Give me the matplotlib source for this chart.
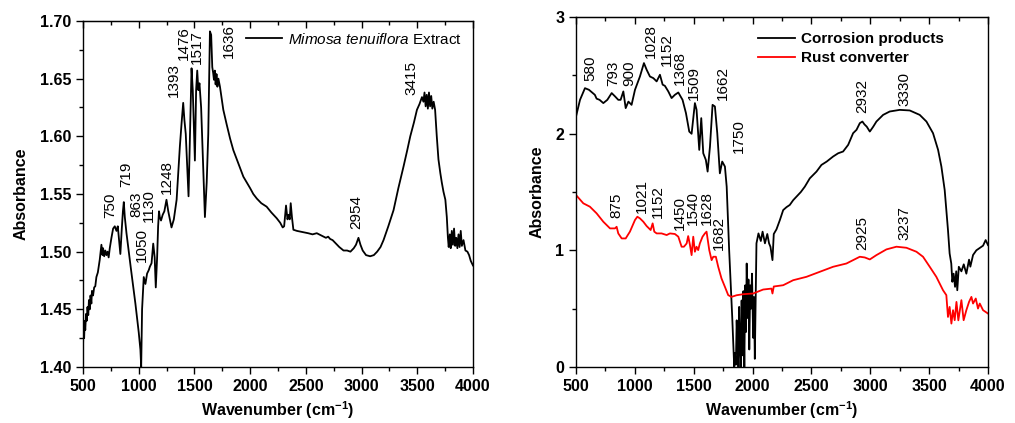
import numpy as np
import matplotlib.pyplot as plt
from matplotlib.ticker import MultipleLocator

plt.rcParams['font.family'] = ['Liberation Sans', 'DejaVu Sans']
plt.rcParams['mathtext.fontset'] = 'custom'
plt.rcParams['mathtext.rm'] = 'Liberation Sans'
plt.rcParams['mathtext.it'] = 'Liberation Sans:italic'
plt.rcParams['mathtext.bf'] = 'Liberation Sans:bold'

# Mimosa tenuiflora extract spectrum (wavenumber, absorbance)
wn_ext = [500, 503, 510, 515, 520, 527, 533, 540, 547, 553, 560, 567, 575, 580, 590, 600, 610, 620, 633,
          650, 665, 675, 680, 690, 700, 710, 720, 730, 740, 755, 770, 785, 800, 812, 825, 835, 848, 858, 866,
          875, 890, 930, 970, 1000, 1015, 1022, 1030, 1045, 1060, 1075, 1090, 1100, 1115, 1130, 1143, 1153,
          1165, 1174, 1182, 1189, 1200, 1215, 1230, 1249, 1265, 1294, 1315, 1340, 1369, 1385, 1399, 1410,
          1422, 1447, 1460, 1474, 1485, 1504, 1515, 1525, 1535, 1545, 1560, 1594, 1610, 1624, 1639, 1650,
          1660, 1668, 1675, 1683, 1690, 1698, 1706, 1715, 1729, 1745, 1759, 1790, 1820, 1849, 1880, 1910,
          1939, 1970, 2000, 2028, 2060, 2100, 2148, 2190, 2238, 2270, 2292, 2305, 2322, 2335, 2345, 2355,
          2364, 2375, 2388, 2420, 2470, 2520, 2560, 2598, 2640, 2680, 2700, 2718, 2740, 2770, 2800, 2838,
          2870, 2900, 2930, 2950, 2972, 2990, 3010, 3040, 3077, 3110, 3140, 3170, 3197, 3240, 3287, 3330,
          3377, 3410, 3437, 3470, 3497, 3520, 3542, 3555, 3565, 3575, 3585, 3595, 3605, 3615, 3625, 3635,
          3647, 3660, 3675, 3690, 3707, 3720, 3735, 3752, 3765, 3775, 3782, 3792, 3800, 3810, 3820, 3830,
          3840, 3850, 3860, 3870, 3880, 3890, 3900, 3915, 3932, 3950, 3965, 3980, 4000]
a_ext = [1.418, 1.430, 1.425, 1.440, 1.432, 1.446, 1.440, 1.452, 1.445, 1.458, 1.450, 1.462, 1.455, 1.466,
         1.462, 1.469, 1.470, 1.478, 1.482, 1.493, 1.506, 1.497, 1.503, 1.496, 1.501, 1.497, 1.500, 1.495,
         1.503, 1.512, 1.520, 1.522, 1.518, 1.522, 1.508, 1.498, 1.520, 1.535, 1.543, 1.530, 1.516, 1.485,
         1.455, 1.430, 1.415, 1.400, 1.450, 1.478, 1.472, 1.481, 1.484, 1.487, 1.490, 1.507, 1.495, 1.469,
         1.495, 1.522, 1.535, 1.530, 1.527, 1.532, 1.535, 1.545, 1.535, 1.521, 1.528, 1.545, 1.591, 1.612,
         1.629, 1.614, 1.602, 1.548, 1.600, 1.659, 1.640, 1.579, 1.640, 1.657, 1.640, 1.646, 1.625, 1.530,
         1.560, 1.602, 1.691, 1.688, 1.660, 1.655, 1.649, 1.657, 1.645, 1.654, 1.643, 1.650, 1.643, 1.632,
         1.623, 1.610, 1.598, 1.588, 1.580, 1.572, 1.565, 1.560, 1.555, 1.550, 1.546, 1.542, 1.539, 1.534,
         1.529, 1.525, 1.521, 1.522, 1.540, 1.528, 1.532, 1.528, 1.542, 1.530, 1.519, 1.518, 1.517, 1.516,
         1.515, 1.516, 1.514, 1.512, 1.513, 1.511, 1.510, 1.507, 1.504, 1.501, 1.501, 1.500, 1.503, 1.506,
         1.512, 1.506, 1.501, 1.497, 1.496, 1.497, 1.500, 1.504, 1.510, 1.522, 1.536, 1.555, 1.574, 1.588,
         1.600, 1.612, 1.623, 1.628, 1.634, 1.630, 1.638, 1.626, 1.636, 1.624, 1.638, 1.626, 1.635, 1.624,
         1.630, 1.623, 1.600, 1.580, 1.568, 1.560, 1.552, 1.545, 1.530, 1.512, 1.504, 1.515, 1.503, 1.518,
         1.506, 1.520, 1.505, 1.512, 1.503, 1.515, 1.504, 1.518, 1.505, 1.510, 1.501, 1.500, 1.497, 1.492,
         1.488]

# corrosion products spectrum
wn_cor = [500, 534, 576, 610, 660, 675, 700, 732, 766, 803, 831, 859, 879, 902, 922, 945, 972, 1001, 1043,
          1077, 1100, 1128, 1157, 1185, 1213, 1236, 1255, 1284, 1312, 1340, 1369, 1405, 1434, 1462, 1482,
          1510, 1524, 1547, 1564, 1581, 1603, 1618, 1638, 1660, 1680, 1700, 1722, 1742, 1765, 1780, 1801,
          1827, 1844, 1850, 1858, 1865, 1872, 1880, 1886, 1893, 1900, 1907, 1915, 1922, 1930, 1937, 1944,
          1950, 1958, 1965, 1972, 1980, 1987, 1995, 2005, 2012, 2019, 2033, 2050, 2070, 2085, 2105, 2125,
          2140, 2152, 2169, 2180, 2203, 2232, 2260, 2288, 2316, 2345, 2373, 2410, 2444, 2486, 2543, 2585,
          2630, 2684, 2727, 2769, 2812, 2854, 2883, 2911, 2933, 2950, 2970, 2996, 3025, 3052, 3109, 3165,
          3250, 3335, 3420, 3477, 3533, 3576, 3604, 3632, 3660, 3674, 3688, 3697, 3708, 3720, 3730, 3739,
          3752, 3774, 3794, 3816, 3839, 3850, 3873, 3901, 3930, 3958, 3980, 4000]
a_cor = [2.147, 2.290, 2.390, 2.376, 2.333, 2.300, 2.290, 2.262, 2.290, 2.348, 2.320, 2.290, 2.290,
         2.362, 2.219, 2.275, 2.247, 2.376, 2.490, 2.605, 2.548, 2.490, 2.476, 2.448, 2.505, 2.420, 2.410,
         2.362, 2.305, 2.333, 2.353, 2.290, 2.176, 2.018, 1.999, 2.262, 2.205, 1.861, 2.133, 1.832, 1.775,
         1.675, 1.889, 2.247, 2.233, 2.004, 1.660, 1.761, 1.718, 1.546, 1.002, 0.430, 0.000, 0.120, 0.020,
         0.400, 0.180, 0.000, 0.515, 0.200, 0.000, 0.570, 0.100, 0.650, 0.000, 0.700, 0.300, 0.887, 0.420,
         0.750, 0.150, 0.700, 0.500, 0.800, 0.250, 0.600, 0.070, 1.060, 1.145, 1.080, 1.160, 1.060, 1.140,
         1.060, 1.030, 0.916, 1.140, 1.180, 1.260, 1.345, 1.370, 1.389, 1.430, 1.460, 1.500, 1.546, 1.617,
         1.675, 1.732, 1.761, 1.804, 1.832, 1.847, 1.904, 2.004, 2.033, 2.090, 2.104, 2.080, 2.060, 2.018,
         2.060, 2.104, 2.161, 2.190, 2.204, 2.199, 2.161, 2.104, 2.004, 1.861, 1.718, 1.517, 1.174, 0.973,
         0.887, 0.730, 0.800, 0.687, 0.820, 0.658, 0.859, 0.820, 0.880, 0.800, 0.920, 0.860, 0.960, 1.000,
         1.020, 1.040, 1.088, 1.045]

# rust converter spectrum
wn_rust = [500, 562, 618, 675, 732, 789, 831, 845, 859, 888, 922, 958, 1001, 1021, 1043, 1072, 1100, 1134,
           1151, 1165, 1185, 1227, 1270, 1298, 1340, 1369, 1397, 1417, 1440, 1453, 1468, 1482, 1496, 1510,
           1524, 1538, 1552, 1575, 1595, 1609, 1632, 1652, 1666, 1688, 1708, 1736, 1765, 1793, 1821, 1864,
           1920, 2005, 2090, 2160, 2169, 2180, 2260, 2345, 2458, 2571, 2684, 2797, 2854, 2911, 2953, 2996,
           3052, 3137, 3222, 3307, 3392, 3448, 3505, 3561, 3618, 3646, 3660, 3674, 3689, 3703, 3717, 3732,
           3748, 3760, 3774, 3793, 3816, 3839, 3859, 3873, 3896, 3915, 3930, 3958, 4000]
a_rust = [1.474, 1.403, 1.374, 1.317, 1.245, 1.188, 1.188, 1.202, 1.145, 1.102, 1.102, 1.160, 1.260, 1.288,
          1.274, 1.245, 1.208, 1.174, 1.231, 1.160, 1.145, 1.145, 1.131, 1.145, 1.140, 1.117, 1.031, 1.031,
          1.059, 1.122, 1.045, 0.959, 1.117, 0.988, 1.031, 1.002, 1.059, 1.117, 1.145, 1.160, 1.002, 0.916,
          0.945, 0.945, 0.859, 0.759, 0.687, 0.616, 0.601, 0.615, 0.624, 0.630, 0.664, 0.672, 0.630, 0.690,
          0.701, 0.744, 0.773, 0.816, 0.859, 0.887, 0.916, 0.945, 0.939, 0.922, 0.959, 1.008, 1.031, 1.022,
          0.988, 0.945, 0.859, 0.773, 0.658, 0.616, 0.429, 0.515, 0.372, 0.487, 0.401, 0.558, 0.400, 0.480,
          0.573, 0.401, 0.487, 0.558, 0.601, 0.544, 0.587, 0.501, 0.544, 0.487, 0.458]

# peak labels: (text, x position, bottom of label)
peaks_ext = [('750', 740, 1.529), ('719', 884, 1.556), ('863', 980, 1.530), ('1050', 1024, 1.491),
             ('1130', 1093, 1.526), ('1248', 1249, 1.550), ('1393', 1315, 1.634), ('1476', 1408, 1.666),
             ('1517', 1519, 1.663), ('1636', 1813, 1.668), ('2954', 2951, 1.520), ('3415', 3452, 1.636)]
peaks_cor = [('580', 624, 2.448), ('793', 817, 2.405), ('900', 950, 2.405), ('1028', 1134, 2.648),
             ('1152', 1270, 2.577), ('1368', 1383, 2.419), ('1509', 1504, 2.290), ('1662', 1751, 2.290),
             ('1750', 1884, 1.832), ('2932', 2933, 2.176), ('3330', 3293, 2.233)]
peaks_rust = [('875', 845, 1.274), ('1021', 1057, 1.317), ('1152', 1199, 1.274), ('1450', 1383, 1.174),
              ('1540', 1496, 1.217), ('1628', 1610, 1.217), ('1682', 1717, 1.002), ('2925', 2933, 1.002),
              ('3237', 3287, 1.088)]

FS = 11.5     # axis text
FS_PK = 11    # peak labels


def style_axes(ax):
    ax.set_xlim(500, 4000)
    ax.xaxis.set_major_locator(MultipleLocator(500))
    ax.xaxis.set_minor_locator(MultipleLocator(250))
    ax.tick_params(axis='both', which='both', direction='out', labelsize=FS, width=1.0)
    ax.tick_params(which='major', length=5)
    ax.tick_params(which='minor', length=3)
    for lab in ax.get_xticklabels() + ax.get_yticklabels():
        lab.set_fontweight('bold')
    for sp in ax.spines.values():
        sp.set_linewidth(1.0)
    # inward ticks along the top edge, no labels
    top = ax.secondary_xaxis('top')
    top.xaxis.set_major_locator(MultipleLocator(500))
    top.xaxis.set_minor_locator(MultipleLocator(250))
    top.tick_params(which='both', direction='in', labeltop=False, width=1.0)
    top.tick_params(which='major', length=5)
    top.tick_params(which='minor', length=3)
    ax.set_xlabel('Wavenumber (cm$^{\\mathbf{-1}}$)', fontsize=FS, fontweight='bold', labelpad=4)
    ax.set_ylabel('Absorbance', fontsize=FS, fontweight='bold', labelpad=8)


def put_peaks(ax, peaks):
    for txt, x, y in peaks:
        ax.text(x, y, txt, rotation=90, ha='center', va='bottom', fontsize=FS_PK)


fig = plt.figure(figsize=(10.15, 4.23), dpi=100)
ax1 = fig.add_axes([0.0818, 0.1324, 0.3842, 0.818])
ax2 = fig.add_axes([0.5675, 0.1324, 0.4059, 0.8274])

ax1.plot(wn_ext, a_ext, color='black', lw=1.3, label=r'$\mathit{Mimosa\ tenuiflora}$ Extract')
ax1.set_ylim(1.40, 1.70)
ax1.yaxis.set_major_locator(MultipleLocator(0.05))
ax1.yaxis.set_minor_locator(MultipleLocator(0.025))
ax1.yaxis.set_major_formatter(lambda v, p: f'{v:.2f}')
style_axes(ax1)
put_peaks(ax1, peaks_ext)
ax1.legend(loc='upper right', frameon=False, fontsize=FS_PK, handlelength=2.4,
           handletextpad=0.4, borderaxespad=0.3)

ax2.plot(wn_cor, a_cor, color='black', lw=1.3, label='Corrosion products')
ax2.plot(wn_rust, a_rust, color='#ff0000', lw=1.3, label='Rust converter')
ax2.set_ylim(0, 3)
ax2.yaxis.set_major_locator(MultipleLocator(1))
ax2.yaxis.set_minor_locator(MultipleLocator(0.5))
style_axes(ax2)
put_peaks(ax2, peaks_cor)
put_peaks(ax2, peaks_rust)
leg = ax2.legend(loc='upper right', frameon=False, fontsize=FS_PK, handlelength=2.4,
                 handletextpad=0.4, borderaxespad=0.6, labelspacing=0.3,
                 bbox_to_anchor=(0.93, 1.0))
for t in leg.get_texts():
    t.set_fontweight('bold')

fig.savefig('out.png', dpi=100)
